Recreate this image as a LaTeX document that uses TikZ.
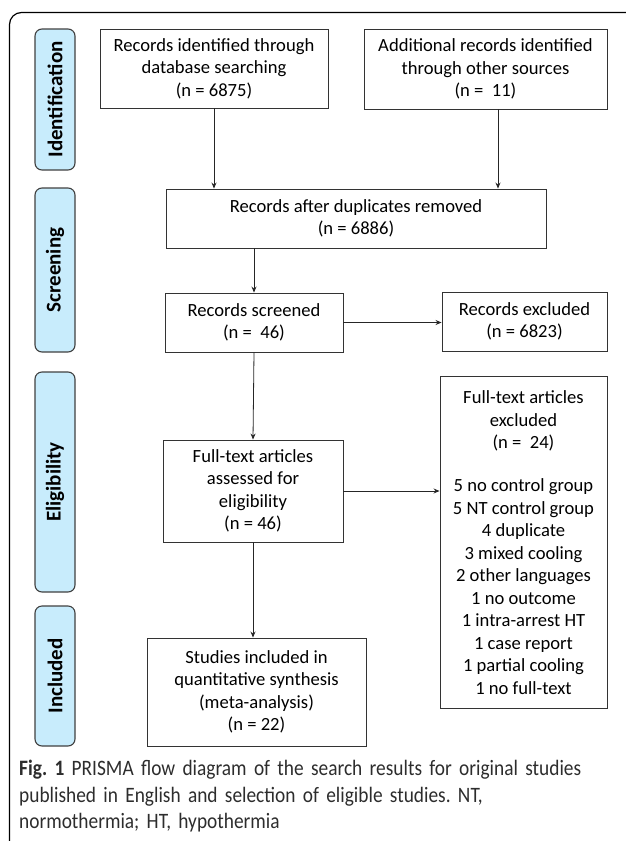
\documentclass[tikz,border=0pt]{standalone}
\usepackage{fontspec}
\setmainfont{Carlito}
\newfontfamily\capfont[FakeStretch=0.88]{Carlito}
\usetikzlibrary{arrows.meta}
\definecolor{phaseblue}{RGB}{200,236,252}
\definecolor{captext}{RGB}{45,45,45}
\frenchspacing
\tikzset{
  box/.style={draw=black!80, line width=0.9pt, align=center, inner sep=2pt,
    font=\fontsize{18.6}{22.5}\selectfont},
  phase/.style={draw=black!75, line width=1.1pt, fill=phaseblue, rounded corners=7pt,
    rotate=90, minimum height=40pt, inner sep=0pt, font=\fontsize{21}{24}\selectfont\bfseries},
  arr/.style={-{Stealth[length=6pt,width=5pt]}, line width=0.8pt, black!85}
}
\begin{document}
\begin{tikzpicture}[x=1pt,y=-1pt]
\useasboundingbox (0,0) rectangle (625,841);
% frame round the figure
\draw[line width=1.2pt, rounded corners=12pt] (9.5,841) -- (9.5,12.5) -- (626,12.5);

% phases
\node[phase, minimum width=141pt] (ident) at (55,99.5) {Identification};
\node[phase, minimum width=164pt] (screen) at (55,270) {Screening};
\node[phase, minimum width=220pt] (elig) at (55,482) {Eligibility};
\node[phase, minimum width=140pt] (incl) at (55,676) {Included};

% boxes
\node[box, minimum width=228pt, minimum height=79pt] (dbrec) at (214,68.5)
  {Records identified through\\ database searching\\ (n = 6875)};
\node[box, minimum width=243pt, minimum height=80pt] (addrec) at (485.5,69)
  {Additional records identified\\ through other sources\\ (n =~~11)};
\node[box, minimum width=380pt, minimum height=59pt] (nodup) at (356,218.5)
  {Records after duplicates removed\\ (n = 6886)};
\node[box, minimum width=178pt, minimum height=59pt] (scr) at (254,322.5)
  {Records screened\\ (n =~~46)};
\node[box, minimum width=165pt, minimum height=59pt] (screx) at (524.5,321.5)
  {Records excluded\\ (n = 6823)};
\node[box, minimum width=180pt, minimum height=102pt] (full) at (253,491)
  {Full-text articles\\ assessed for\\ eligibility\\ (n = 46)};
\node[box, minimum width=167pt, minimum height=332pt, anchor=north] (fullex) at (523.5,376)
  {Full-text articles\\ excluded\\ (n =~~24)\\[20.5pt]
   5 no control group\\ 5 NT control group\\ 4 duplicate\\ 3 mixed cooling\\
   2 other languages\\ 1 no outcome\\ 1 intra-arrest HT\\ 1 case report\\
   1 partial cooling\\ 1 no full-text};
\node[box, minimum width=219pt, minimum height=108pt] (incstud) at (256.5,692)
  {Studies included in\\ quantitative synthesis\\ (meta-analysis)\\ (n = 22)};

% connectors
\draw[arr] (dbrec.south) -- (dbrec.south |- nodup.north);
\draw[arr] ([xshift=12.5pt]addrec.south) -- ([xshift=12.5pt]addrec.south |- nodup.north);
\draw[arr] (scr.north |- nodup.south) -- (scr.north);
\draw[arr] (scr.east) -- (scr.east -| screx.west);
\draw[arr] (scr.south) -- (full.north);
\draw[arr] (full.east) -- (full.east -| fullex.west);
\draw[arr] (full.south) -- (full.south |- incstud.north);

% caption
\node[anchor=north west, text width=600pt, align=left, inner sep=0pt, text=captext,
  font=\capfont\fontsize{22}{26.5}\selectfont] (cap) at (19,760)
  {\textbf{Fig. 1} PRISMA flow diagram of the search results for original studies\\
   published in English and selection of eligible studies. NT,\\ normothermia; HT, hypothermia};
\end{tikzpicture}
\end{document}
